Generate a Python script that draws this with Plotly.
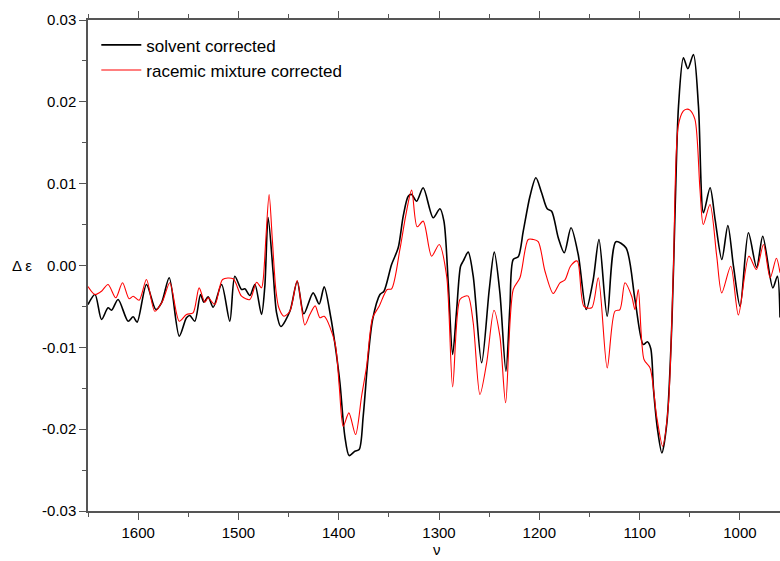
import plotly.graph_objects as go

# wavenumber (cm-1) and delta-epsilon values for "solvent corrected"
solv_wn = [1650, 1643, 1636.5, 1630, 1626.5, 1620, 1610, 1605, 1601, 1591.7, 1582.4, 1576.7, 1569,
           1559, 1551.8, 1548.5, 1543.5, 1537.8, 1534.5, 1530.2, 1525.2, 1516.8, 1508.6, 1503.6,
           1496.9, 1493.6, 1488.6, 1483.6, 1477, 1473.7, 1470.4, 1465.4, 1462, 1457.7, 1448.7,
           1441.4, 1434.8, 1425.5, 1419.5, 1414.5, 1408.1, 1403.8, 1398.8, 1393.9, 1389.6, 1383.9,
           1379.6, 1375.6, 1370.6, 1366.2, 1358.9, 1354.9, 1347.3, 1340.7, 1335.7, 1330.7, 1327.3,
           1322.3, 1315.8, 1305.8, 1299.1, 1295.1, 1290.8, 1286.4, 1282.4, 1278.5, 1275.9, 1270.9,
           1265.9, 1257.5, 1249.9, 1244.9, 1239.3, 1233.3, 1229.3, 1226, 1221, 1216, 1209.3, 1203.4,
           1197.7, 1192.1, 1187.7, 1181.1, 1175.1, 1168.4, 1161.2, 1153.2, 1146.2, 1140.5, 1132.3,
           1123.6, 1113.6, 1104.6, 1096.3, 1092.3, 1088.9, 1086.1, 1082.1, 1077.8, 1072.8, 1067.8,
           1064.5, 1061.2, 1056.3, 1051.9, 1046.3, 1041.3, 1036.3, 1029.7, 1024.7, 1018, 1012,
           1006.4, 999.8, 991.5, 983.3, 977.2, 967.2, 962.6, 960]
solv_de = [-4.77, -3.55, -6.60, -5.17, -5.46, -4.16, -6.81, -6.27, -6.93, -2.32, -5.38, -4.56, -1.50,
           -8.64, -6.39, -6.11, -6.81, -3.55, -4.49, -3.83, -5.10, -2.32, -6.81, -1.31,
           -2.93, -2.85, -3.67, -2.32, -5.99, -2.57, 5.87, -0.86, -5.75, -7.46, -5.59,
           -1.96, -5.90, -3.34, -4.71, -2.60, -6.20, -9.54, -14.34, -20.87, -23.23, -22.70,
           -22.49, -18.42, -11.09, -6.60, -3.55, -3.14, 0.12, 2.16, 6.03, 8.47, 8.68,
           7.86, 9.50, 5.83, 6.93, 5.42, -2.11, -10.88, -5.38, -0.09, 0.53, 1.63,
           -1.31, -11.89, -2.93, 1.63, -3.34, -12.92, -4.98, 0.73, 1.06, 4.19, 8.47, 10.72,
           8.89, 6.93, 6.64, 3.39, 1.55, 4.61, 1.34, -5.38, -1.71, 3.18, -6.20,
           2.90, 2.16, -4.16, -9.66, -9.33, -10.14, -15.16, -20.05, -22.90, -19.23, -7.00,
           7.25, 19.47, 25.39, 24.05, 25.79, 19.47, 6.44, 9.50, 5.62, 0.73, 4.89,
           -0.09, -4.98, 4.00, -0.24, 3.58, -2.73, -1.31, -6.36]

# wavenumber (cm-1) and delta-epsilon values for "racemic mixture corrected"
rac_wn = [1650, 1643, 1636.5, 1630, 1622.3, 1615.6, 1609, 1605, 1599, 1591.7, 1583.4, 1575.7, 1568.4,
          1559, 1551.8, 1545.2, 1539.2, 1533.5, 1530.2, 1523.5, 1515.8, 1505.3, 1496.9, 1488.6,
          1481.9, 1477, 1475.3, 1472.7, 1469.4, 1466.2, 1462.7, 1459.7, 1454.7, 1448.7, 1441.4,
          1433.8, 1428.8, 1423.5, 1418.8, 1414.5, 1403.8, 1399.5, 1395.5, 1389.9, 1383.2, 1377.2,
          1372.2, 1366.2, 1359.7, 1351.7, 1347.3, 1339, 1333, 1327.3, 1321.8, 1315.8, 1307.4,
          1299.8, 1292.4, 1286.4, 1279.2, 1274.2, 1270.9, 1265.9, 1259.2, 1252.5, 1245.2, 1239.3,
          1233.6, 1226, 1219.3, 1211.1, 1206.1, 1201.1, 1194.4, 1186.1, 1179.4, 1174.4, 1168.8,
          1162.2, 1155.5, 1147.8, 1141.2, 1132.3, 1124.6, 1119.6, 1114.6, 1107.9, 1104.6, 1101.3,
          1095.6, 1089.6, 1083, 1077, 1071.4, 1066.4, 1061.5, 1056.5, 1053.3, 1049.8, 1044.8,
          1039.8, 1036.5, 1029.8, 1023.1, 1018.1, 1009.1, 1001.5, 991, 983.5, 976.5, 969.8,
          963.6, 960]
rac_de = [-2.57, -3.55, -3.14, -2.32, -3.95, -2.11, -4.07, -3.75, -4.24, -1.71, -5.59, -4.36, -2.11,
          -6.81, -5.99, -5.78, -2.73, -4.49, -3.95, -4.77, -1.71, -1.63, -3.75, -4.16,
          -2.04, -2.73, -1.71, 3.18, 8.68, 3.18, -2.93, -5.17, -6.20, -5.59, -1.83,
          -7.27, -5.99, -4.93, -6.39, -6.20, -9.41, -14.76, -19.65, -18.01, -20.66, -15.98,
          -12.31, -6.39, -4.98, -2.93, -2.85, 1.96, 6.23, 9.21, 4.73, 5.42, 1.14,
          2.57, -1.31, -14.83, -4.16, -3.75, -3.75, -7.00, -15.77, -11.89, -5.46, -8.64,
          -16.78, -2.93, -1.50, 3.18, 3.18, 2.93, -0.67, -3.42, -2.11, -1.75, -0.06,
          0.55, -4.98, -5.17, -1.50, -12.51, -5.59, -5.38, -2.11, -3.75, -5.38, -2.93,
          -11.49, -12.51, -18.42, -22.09, -17.20, -0.89, 17.03, 18.86, 19.10, 18.99, 17.85,
          9.29, 5.01, 7.46, 1.14, -3.34, -0.09, -6.05, 1.14, -0.49, 2.57, -1.50,
          0.88, -0.89]

x_ticks = [1600, 1500, 1400, 1300, 1200, 1100, 1000]
y_ticks = [-0.03, -0.02, -0.01, 0.0, 0.01, 0.02, 0.03]
y_labels = ["-0.03", "-0.02", "-0.01", "0.00", "0.01", "0.02", "0.03"]

FONT = "Liberation Sans, Arial, sans-serif"

fig = go.Figure()
fig.add_trace(go.Scatter(x=solv_wn, y=[v / 1000 for v in solv_de], mode="lines",
                         name="solvent corrected",
                         line=dict(color="black", width=1.6, shape="spline", smoothing=0.8)))
fig.add_trace(go.Scatter(x=rac_wn, y=[v / 1000 for v in rac_de], mode="lines",
                         name="racemic mixture corrected",
                         line=dict(color="red", width=1.1, shape="spline", smoothing=0.8)))

axis_common = dict(showgrid=False, zeroline=False, showline=True, linecolor="#555555",
                   linewidth=1.5, ticks="outside", ticklen=7, tickwidth=1, tickcolor="#555555",
                   tickfont=dict(family=FONT, size=15, color="black"))

fig.update_xaxes(range=[1650, 960], tickvals=x_ticks, ticktext=[str(t) for t in x_ticks],
                 mirror="allticks",
                 minor=dict(dtick=50, tick0=1000, ticks="outside", ticklen=4, tickcolor="#555555"),
                 **axis_common)
fig.update_yaxes(range=[-0.03, 0.03], tickvals=y_ticks, ticktext=y_labels, mirror=False,
                 minor=dict(dtick=0.005, tick0=0, ticks="outside", ticklen=4, tickcolor="#555555"),
                 **axis_common)

fig.add_annotation(text="\u0394 \u03b5", xref="paper", yref="paper", x=-0.113, y=0.5,
                   xanchor="left", yanchor="middle", showarrow=False,
                   font=dict(family=FONT, size=15, color="black"))
fig.add_annotation(text="\u03bd", xref="paper", yref="paper", x=0.505, y=-0.1,
                   xanchor="center", yanchor="bottom", showarrow=False,
                   font=dict(family=FONT, size=15, color="black"))

fig.update_layout(width=780, height=561, margin=dict(l=88, r=0, t=20, b=50),
                  paper_bgcolor="white", plot_bgcolor="white",
                  legend=dict(x=0.012, y=0.985, xanchor="left", yanchor="top",
                              bgcolor="rgba(0,0,0,0)", tracegroupgap=0, itemwidth=40,
                              font=dict(family=FONT, size=17, color="black")),
                  font=dict(family=FONT))

fig.write_html("out.html")
